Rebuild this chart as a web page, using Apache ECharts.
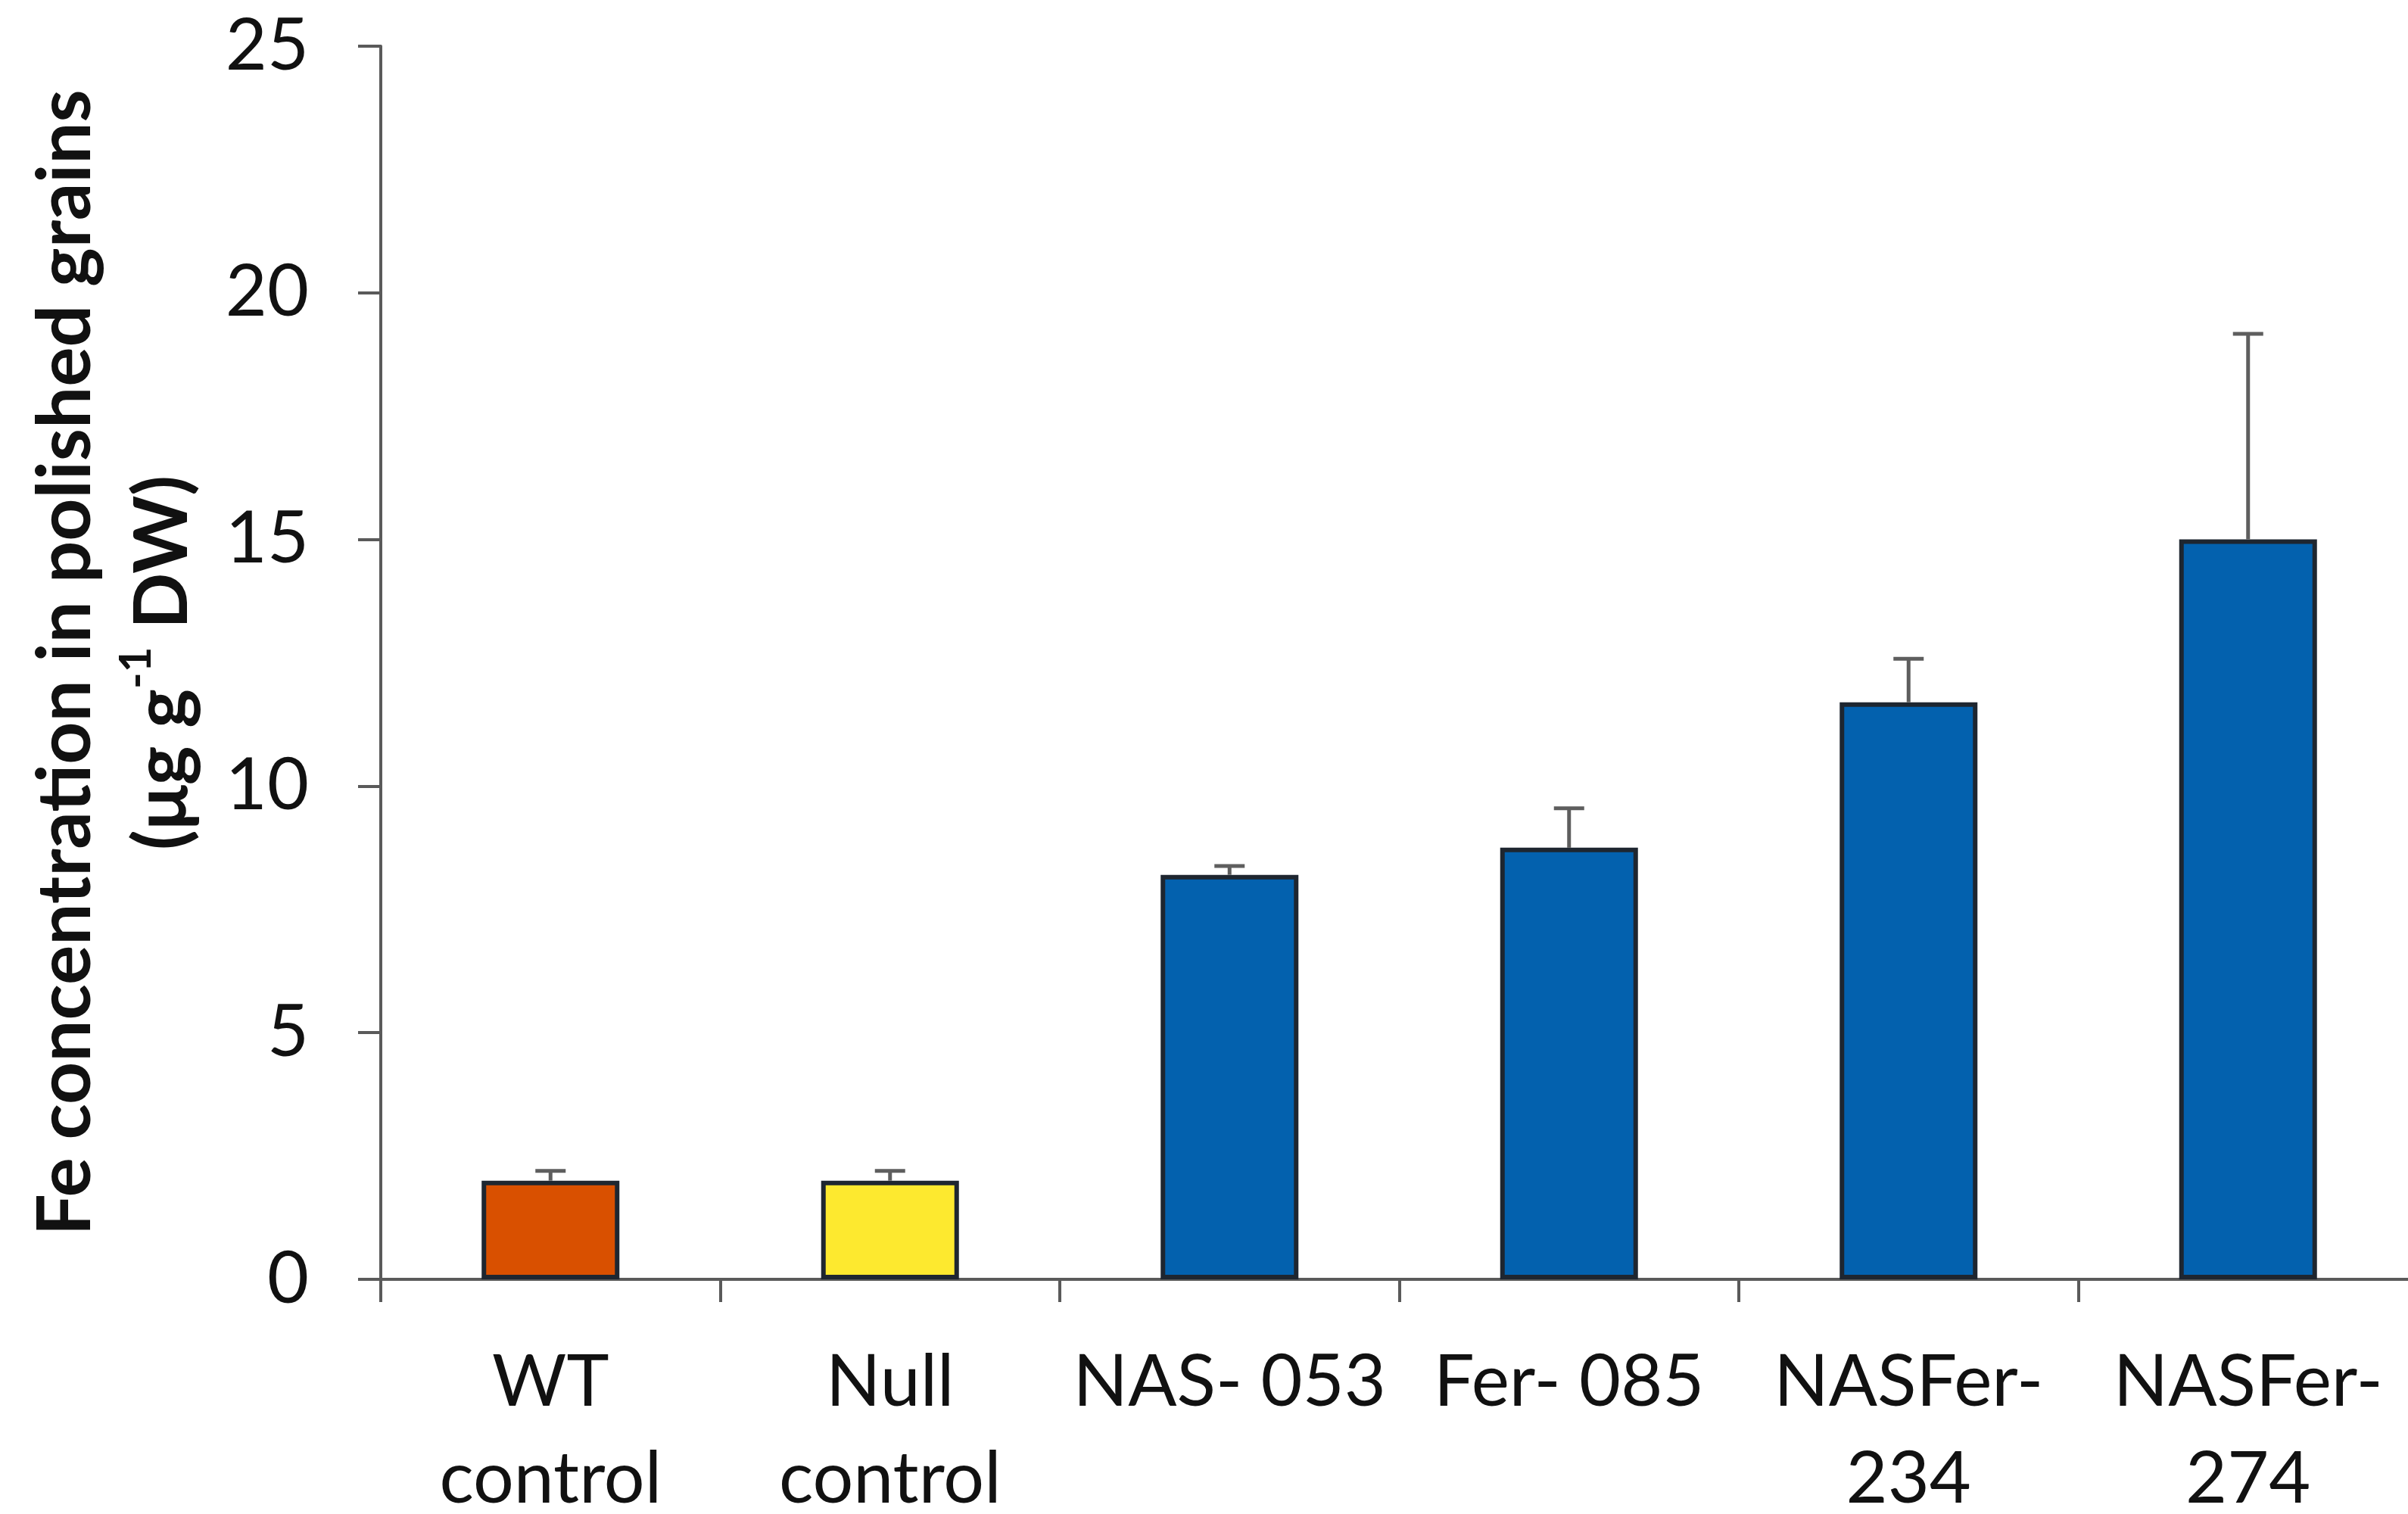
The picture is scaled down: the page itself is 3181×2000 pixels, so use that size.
<!DOCTYPE html>
<html>
<head>
<meta charset="utf-8">
<script src="https://cdn.jsdelivr.net/npm/echarts@6/dist/echarts.min.js"></script>
<style>
  html, body { margin: 0; padding: 0; background: #ffffff; overflow: hidden; }
  #frame { position: relative; width: 3181px; height: 2000px; overflow: hidden; }
  #chart { position: absolute; left: 0; top: 0; width: 3200px; height: 2000px; }
</style>
</head>
<body>
<div id="frame"><div id="chart"></div></div>
<script>
// Grain Fe concentration per line (mean ± SD)
const categories = ['WT\ncontrol', 'Null\ncontrol', 'NAS- 053', 'Fer- 085', 'NASFer-\n234', 'NASFer-\n274'];
const meanValues = [2.0, 2.0, 8.2, 8.75, 11.7, 15.0];
const errValues = [0.2, 0.2, 0.18, 0.8, 0.88, 4.17];
const barColors = ['#D95000', '#FDE92F', '#0361AE', '#0361AE', '#0361AE', '#0361AE'];
const yTicks = { min: 0, max: 25, interval: 5 };

const axisGrey = '#5a5a5a';
const textFont = 'Lato';

const chart = echarts.init(document.getElementById('chart'), null, { renderer: 'canvas' });

const barData = meanValues.map((v, i) => ({
  value: v,
  itemStyle: { color: barColors[i] }
}));
const errData = meanValues.map((v, i) => [i, v, errValues[i]]);

chart.setOption({
  animation: false,
  backgroundColor: '#ffffff',
  grid: { left: 503, right: 6, top: 61, bottom: 310, containLabel: false, outerBoundsMode: 'none' },
  xAxis: {
    type: 'category',
    data: categories,
    boundaryGap: true,
    axisLine: { show: true, lineStyle: { color: axisGrey, width: 4 } },
    axisTick: { show: true, length: 30, lineStyle: { color: axisGrey, width: 4 } },
    axisLabel: {
      interval: 0,
      margin: 72,
      color: '#111111',
      fontFamily: textFont,
      fontSize: 95,
      lineHeight: 128
    }
  },
  yAxis: {
    type: 'value',
    min: yTicks.min,
    max: yTicks.max,
    interval: yTicks.interval,
    splitLine: { show: false },
    axisLine: { show: true, lineStyle: { color: axisGrey, width: 4 } },
    axisTick: { show: true, length: 30, lineStyle: { color: axisGrey, width: 4 } },
    axisLabel: {
      margin: 95,
      color: '#111111',
      fontFamily: textFont,
      fontSize: 95
    },
    name: '{t|Fe concentration in polished grains}\n{t|(μg g}{s|-1}{t| DW)}',
    nameLocation: 'middle',
    nameRotate: 90,
    nameGap: 224,
    nameTextStyle: {
      rich: {
        t: { fontFamily: textFont, fontWeight: 'bold', fontSize: 98, lineHeight: 128, color: '#111111' },
        s: { fontFamily: textFont, fontWeight: 'bold', fontSize: 58, lineHeight: 92, verticalAlign: 'top', color: '#111111' }
      }
    }
  },
  series: [
    {
      type: 'bar',
      data: barData,
      barWidth: 182,
      itemStyle: { borderColor: '#1e2630', borderWidth: 6 },
      z: 2
    },
    {
      type: 'custom',
      data: errData,
      encode: { x: 0, y: 1 },
      z: 3,
      renderItem: function (params, api) {
        const idx = api.value(0);
        const mean = api.value(1);
        const err = api.value(2);
        const base = api.coord([idx, mean]);
        const top = api.coord([idx, mean + err]);
        const capHalf = 20;
        const style = { stroke: '#5e5e5e', lineWidth: 5 };
        return {
          type: 'group',
          children: [
            { type: 'line', shape: { x1: base[0], y1: base[1], x2: top[0], y2: top[1] }, style: style },
            { type: 'line', shape: { x1: top[0] - capHalf, y1: top[1], x2: top[0] + capHalf, y2: top[1] }, style: style }
          ]
        };
      }
    }
  ]
});
</script>
</body>
</html>
